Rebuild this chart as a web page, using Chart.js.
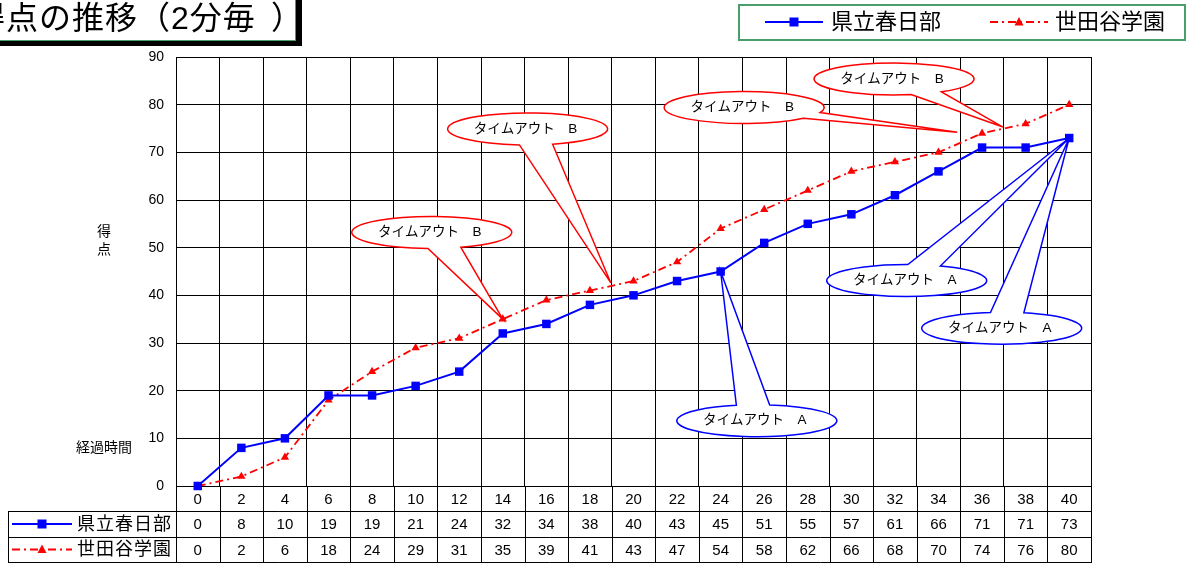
<!DOCTYPE html>
<html><head><meta charset="utf-8">
<script src="https://cdn.jsdelivr.net/npm/chart.js@4/dist/chart.umd.min.js"></script>
<style>html,body{margin:0;padding:0;background:#fff;overflow:hidden}</style>
</head><body>
<canvas id="c" width="1189" height="564"></canvas>
<script>
// ---- data ----
const minutes = ['0','2','4','6','8','10','12','14','16','18','20','22','24','26','28','30','32','34','36','38','40'];
const kasukabe = [0,8,10,19,19,21,24,32,34,38,40,43,45,51,55,57,61,66,71,71,73];
const setagaya = [0,2,6,18,24,29,31,35,39,41,43,47,54,58,62,66,68,70,74,76,80];
const seriesNames = ['県立春日部','世田谷学園'];
const yMin = 0, yMax = 90, yStep = 10;
const chartTitle = ['得点の推移（2分毎', '）'];
const yAxisTitle = ['得','点'];
const xAxisTitle = '経過時間';
const timeoutLabels = ['タイムアウト　A','タイムアウト　B'];
// callouts: team (0 = 県立春日部 / A, 1 = 世田谷学園 / B), bubble centre and tip in (category index, score)
const callouts = [
  {team:1, c:[5.37,53.2],  tip:[7, setagaya[7]]},
  {team:1, c:[7.57,74.9],  tip:[9.48,42.6]},
  {team:1, c:[12.54,79.4], tip:[17.43,74.2]},
  {team:1, c:[15.98,85.4], tip:[18.48,75.3]},
  {team:0, c:[12.83,13.7], tip:[12, kasukabe[12]]},
  {team:0, c:[16.27,43.1], tip:[20, kasukabe[20]]},
  {team:0, c:[18.45,33.1], tip:[20, kasukabe[20]]}
];

// ---- styles ----
const FONT = "'Liberation Sans','Noto Sans CJK JP',sans-serif";
const BLUE = '#0000ff', RED = '#ff0000', GREEN = '#4a9e6b';
const RED_DASH = [8,4,2,4];
Chart.defaults.font.family = FONT;
Chart.defaults.color = '#000';

function marker(ctx, type, x, y, color) {
  ctx.save();
  ctx.fillStyle = color; ctx.setLineDash([]);
  ctx.beginPath();
  if (type === 'rect') { ctx.rect(x-4.5, y-4.5, 9, 9); }
  else { ctx.moveTo(x, y-5); ctx.lineTo(x+4.5, y+3.5); ctx.lineTo(x-4.5, y+3.5); ctx.closePath(); }
  ctx.fill();
  ctx.restore();
}
function sampleLine(ctx, x1, x2, y, team) {
  ctx.save();
  ctx.strokeStyle = team === 0 ? BLUE : RED;
  ctx.lineWidth = team === 0 ? 2 : 1.8;
  ctx.setLineDash(team === 0 ? [] : RED_DASH);
  ctx.beginPath(); ctx.moveTo(x1, y); ctx.lineTo(x2, y); ctx.stroke();
  ctx.restore();
  marker(ctx, team === 0 ? 'rect' : 'tri', (x1+x2)/2, y, team === 0 ? BLUE : RED);
}

const decor = {
  id: 'decor',
  afterDraw(chart) {
    const ctx = chart.ctx, xs = chart.scales.x, ys = chart.scales.y, ca = chart.chartArea;
    ctx.save();
    // --- data table ---
    const r0 = Math.round(ca.bottom), r1 = r0 + 25, r2 = r1 + 26, r3 = r2 + 25;
    const step = xs.getPixelForValue(1) - xs.getPixelForValue(0);
    ctx.strokeStyle = '#000'; ctx.lineWidth = 1;
    ctx.beginPath();
    [r1, r2, r3].forEach(y => { ctx.moveTo(8, y + 0.5); ctx.lineTo(Math.round(ca.right) + 0.5, y + 0.5); });
    ctx.moveTo(8.5, r1); ctx.lineTo(8.5, r3 + 1);
    for (let i = 0; i <= minutes.length; i++) {
      const x = Math.round(xs.getPixelForValue(0) - step/2 + i*step) + 0.5;
      ctx.moveTo(x, r0); ctx.lineTo(x, r3 + 1);
    }
    ctx.stroke();
    ctx.fillStyle = '#000'; ctx.textAlign = 'center'; ctx.textBaseline = 'middle';
    ctx.font = '15px ' + FONT;
    minutes.forEach((m, i) => {
      const x = xs.getPixelForValue(i);
      ctx.fillText(m, x, (r0 + r1)/2 + 1);
      ctx.fillText(String(kasukabe[i]), x, (r1 + r2)/2 + 1);
      ctx.fillText(String(setagaya[i]), x, (r2 + r3)/2 + 1);
    });
    sampleLine(ctx, 12, 72, (r1 + r2)/2, 0);
    sampleLine(ctx, 12, 72, (r2 + r3)/2, 1);
    ctx.fillStyle = '#000'; ctx.textAlign = 'left'; ctx.font = '18px ' + FONT;
    ctx.letterSpacing = '1px';
    ctx.fillText(seriesNames[0], 77, (r1 + r2)/2 + 1);
    ctx.fillText(seriesNames[1], 77, (r2 + r3)/2 + 1);
    ctx.letterSpacing = '0px';

    // --- axis titles ---
    ctx.font = '14px ' + FONT; ctx.textAlign = 'center';
    yAxisTitle.forEach((t, i) => ctx.fillText(t, 104, 232 + i*18));
    ctx.fillText(xAxisTitle, 104, 448);

    // --- title box ---
    ctx.fillStyle = '#000'; ctx.fillRect(-10, -10, 312, 56);
    ctx.fillStyle = '#fff'; ctx.fillRect(-10, -10, 306, 51);
    ctx.strokeStyle = GREEN; ctx.lineWidth = 1; ctx.strokeRect(-10.5, -10.5, 306, 51);
    ctx.fillStyle = '#000'; ctx.font = '32px ' + FONT; ctx.textAlign = 'left';
    ctx.letterSpacing = '1px';
    ctx.fillText(chartTitle[0], -27, 20);
    ctx.letterSpacing = '0px';
    ctx.fillText(chartTitle[1], 271, 20);

    // --- legend box ---
    ctx.strokeStyle = GREEN; ctx.lineWidth = 2;
    ctx.strokeRect(739, 5, 446, 35);
    sampleLine(ctx, 765, 823, 22, 0);
    sampleLine(ctx, 990, 1048, 22, 1);
    ctx.fillStyle = '#000'; ctx.font = '22px ' + FONT; ctx.textAlign = 'left';
    ctx.fillText(seriesNames[0], 831, 23);
    ctx.fillText(seriesNames[1], 1055, 23);

    // --- callouts ---
    const rx = 80, ry = 16, d = 0.21;
    callouts.forEach(co => {
      const cx = xs.getPixelForValue(co.c[0]), cy = ys.getPixelForValue(co.c[1]);
      const tx = xs.getPixelForValue(co.tip[0]), ty = ys.getPixelForValue(co.tip[1]);
      const phi = Math.atan2((ty - cy)/ry, (tx - cx)/rx);
      ctx.beginPath();
      ctx.moveTo(tx, ty);
      ctx.lineTo(cx + rx*Math.cos(phi + d), cy + ry*Math.sin(phi + d));
      ctx.ellipse(cx, cy, rx, ry, 0, phi + d, phi - d + 2*Math.PI);
      ctx.closePath();
      ctx.fillStyle = '#fff'; ctx.fill();
      ctx.strokeStyle = co.team === 0 ? BLUE : RED; ctx.lineWidth = 1.5; ctx.setLineDash([]);
      ctx.stroke();
      ctx.fillStyle = '#000'; ctx.font = '13.5px ' + FONT; ctx.textAlign = 'center'; ctx.textBaseline = 'middle';
      ctx.fillText(timeoutLabels[co.team], cx - 2, cy);
    });
    ctx.restore();
  }
};

new Chart(document.getElementById('c'), {
  type: 'line',
  data: {
    labels: minutes,
    datasets: [
      {label: seriesNames[0], data: kasukabe, borderColor: BLUE, backgroundColor: BLUE, borderWidth: 2,
       pointStyle: 'rect', pointRadius: 6, pointBorderWidth: 0, pointBackgroundColor: BLUE, tension: 0, clip: false},
      {label: seriesNames[1], data: setagaya, borderColor: RED, backgroundColor: RED, borderWidth: 1.8, borderDash: RED_DASH,
       pointStyle: 'triangle', pointRadius: 4.8, pointBorderWidth: 0, pointBackgroundColor: RED, tension: 0, clip: false}
    ]
  },
  options: {
    responsive: false, animation: false, devicePixelRatio: 1,
    layout: {padding: {top: 57, right: 98, bottom: 0, left: 0}},
    plugins: {legend: {display: false}, title: {display: false}, tooltip: {enabled: false}},
    scales: {
      x: {type: 'category', offset: true,
          grid: {offset: true, color: '#000', lineWidth: 1, drawTicks: false},
          border: {display: true, color: '#000', width: 1},
          ticks: {display: false},
          afterFit: s => { s.height = 78; }},
      y: {min: yMin, max: yMax,
          grid: {color: '#000', lineWidth: 1, drawTicks: false},
          border: {display: true, color: '#000', width: 1},
          ticks: {stepSize: yStep, padding: 12, font: {size: 14}, color: '#000'},
          afterFit: s => { s.width = 176; }}
    }
  },
  plugins: [decor]
});
</script>
</body></html>
